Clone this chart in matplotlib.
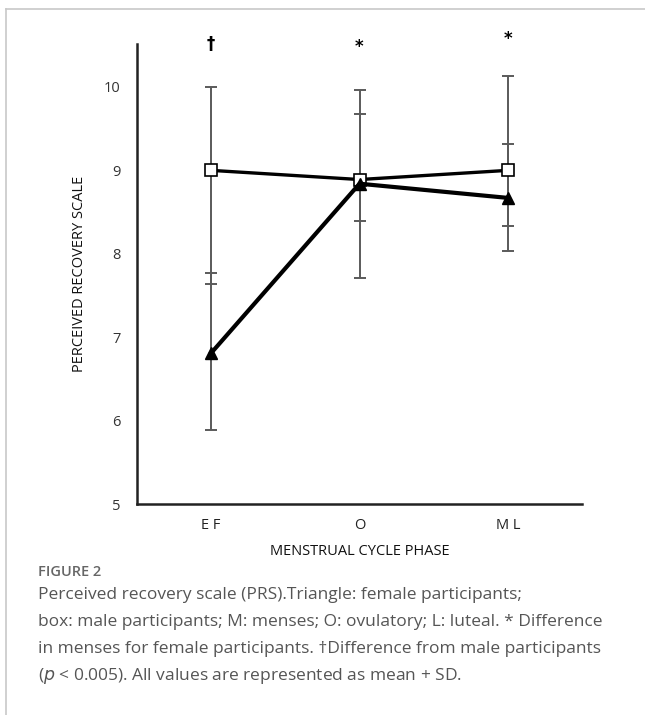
import matplotlib
matplotlib.use("Agg")
import matplotlib.pyplot as plt
from matplotlib.lines import Line2D
import numpy as np

plt.rcParams['font.family'] = ['Open Sans', 'DejaVu Sans']

phases = ["EF", "O", "ML"]
female_mean = [6.81, 8.84, 8.67]
female_low = [5.89, 7.71, 8.03]
female_high = [7.77, 9.96, 9.32]
male_mean = [9.00, 8.89, 9.00]
male_low = [7.64, 8.39, 8.33]
male_high = [10.00, 9.68, 10.13]
sig_marks = ["\u2020", "*", "*"]
sig_y = [10.52, 10.48, 10.58]

caption_title = "FIGURE 2"
caption_lines = [
    "Perceived recovery scale (PRS).Triangle: female participants;",
    "box: male participants; M: menses; O: ovulatory; L: luteal. * Difference",
    "in menses for female participants. \u2020Difference from male participants",
    r"($\it{p}$ < 0.005). All values are represented as mean + SD.",
]

fig = plt.figure(figsize=(6.45, 7.15), dpi=100)
ax = fig.add_axes([137/645, 1-504/715, (582-137)/645, (504-44)/715])

x = np.arange(len(phases))
for mean, lo, hi in [(female_mean, female_low, female_high), (male_mean, male_low, male_high)]:
    mean = np.array(mean); lo = np.array(lo); hi = np.array(hi)
    ax.errorbar(x, mean, yerr=[mean - lo, hi - mean], fmt='none', ecolor='#5a5a5a',
                elinewidth=1.4, capsize=4, capthick=1.4, zorder=1)

ax.plot(x, male_mean, color='black', lw=2.4, marker='s', ms=8.5, mfc='white', mec='black',
        mew=1.2, zorder=3)
ax.plot(x, female_mean, color='black', lw=3.0, marker='^', ms=9, mfc='black', mec='black',
        zorder=4)

for xi, m, yy in zip(x, sig_marks, sig_y):
    ax.text(xi, yy, m, ha='center', va='center', fontsize=12, color='black',
            fontweight='bold', family=['DejaVu Sans'])

ax.set_xlim(-0.5, 2.5)
ax.set_ylim(5, 10.515)
ax.set_yticks([5, 6, 7, 8, 9, 10])
ax.set_yticklabels(['5', '6', '7', '8', '9', '10'], fontsize=10.5, color='#333333')
ax.set_xticks(x)
ax.set_xticklabels([" ".join(p) for p in phases], fontsize=10.5, color='#222222')
ax.tick_params(length=0, pad=12)
ax.tick_params(axis='x', pad=10)
for s in ['top', 'right']:
    ax.spines[s].set_visible(False)
for s in ['left', 'bottom']:
    ax.spines[s].set_linewidth(1.8)
    ax.spines[s].set_color('#222222')
ax.set_xlabel("MENSTRUAL CYCLE PHASE", fontsize=10.5, color='#111111', labelpad=8)
ax.set_ylabel("PERCEIVED RECOVERY SCALE", fontsize=10.5, color='#111111', labelpad=12)

# figure frame
fig.add_artist(Line2D([6/645, 6/645], [0, 1-9/715], transform=fig.transFigure,
                      color='#c8c8c8', lw=1.2))
fig.add_artist(Line2D([6/645, 1], [1-9/715, 1-9/715], transform=fig.transFigure,
                      color='#c8c8c8', lw=1.2))

fig.text(38/645, 1-572/715, caption_title, fontsize=10.5, color='#666666',
         fontweight='semibold', va='center')
ys = [595, 622, 649, 676]
for line, yy in zip(caption_lines, ys):
    fig.text(38/645, 1-yy/715, line, fontsize=12.5, color='#555555', va='center')

fig.savefig("out.png", dpi=100)
